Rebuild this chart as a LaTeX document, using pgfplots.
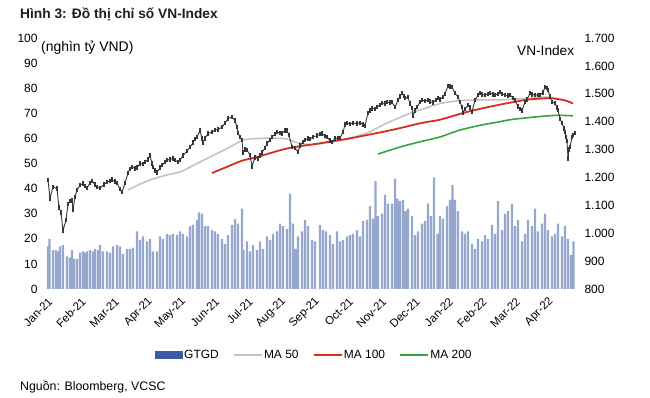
\documentclass[border=0pt]{standalone}
\usepackage{fontspec}
\setmainfont{Liberation Sans}
\usepackage{pgfplots}
\pgfplotsset{compat=1.18}
\definecolor{barblue}{RGB}{150,168,206}
\definecolor{legblue}{RGB}{60,90,165}
\definecolor{ma50}{RGB}{195,195,195}
\definecolor{ma100}{RGB}{215,45,35}
\definecolor{ma200}{RGB}{55,165,60}
\definecolor{idx}{RGB}{55,55,55}
\newcommand{\tf}{\fontsize{12}{14}\selectfont}
\begin{document}
\begin{tikzpicture}
\useasboundingbox (0,0) rectangle (650bp,398bp);
% ---------- left axis: GTGD bars ----------
\begin{axis}[
  at={(45bp,109bp)}, anchor=south west, scale only axis,
  width=532bp, height=251bp,
  xmin=45, xmax=577, ymin=0, ymax=100,
  axis line style={draw=none}, tick style={draw=none},
  ytick={0,10,...,100},
  yticklabel style={font=\tf, xshift=-4bp},
  /pgf/number format/assume math mode=true,
  xtick={47,80.4,113.8,147.2,180.6,214,247.4,280.8,314.2,347.6,381,414.4,447.8,481.2,514.6,548},
  xticklabels={Jan-21,Feb-21,Mar-21,Apr-21,May-21,Jun-21,Jul-21,Aug-21,Sep-21,Oct-21,Nov-21,Dec-21,Jan-22,Feb-22,Mar-22,Apr-22},
  xticklabel style={font=\fontsize{11.5}{13}\selectfont, rotate=45, anchor=east, inner sep=0pt, yshift=-10bp, xshift=-5bp},
]
\addplot[ybar, bar width=2.2, fill=barblue, draw=none] table {
x v
48 17
49.5 20
53 15.5
56 15.5
58 15
60 17
63 17.5
67 13
70 12.5
72 15.5
74 12
77 12
80 14.5
83 15
85 14.5
87 15
90 15.5
93 15
95 16
98 15.5
100 17.5
103 15
107 15
110 14.5
113 17
117 17.5
120 17
123 14
127 16
130 16
133 16.5
137 23
140 19.5
143 21
147 19
150 20
153 15
157 15
160 21
163 20
167 22
170 21.5
173 22
177 21.5
180 23
183 22
187 21
190 25
193 25.5
197 27.5
199 30.5
202 30
205 25
208 25
212 23.5
215 23
218 22
222 20
225 18
228 21.5
232 25.5
235 27.8
238 26
242 32
243.5 15.5
247 19
250 15
253 17.5
257 15.5
260 19
263 16
267 21
270 19.5
273 22
277 23
280 26
283 25
287 24
290 38
293 26
295.5 16
298 21
302 23
305 27.5
308 25
312 19.5
315 19
320 25.5
323 23.5
326 23
330 21.5
333 18
337 23
340 19
343 19.5
347 21
350 21.5
353 22
357 23.5
360 21
363 27
367 27.5
370 33
373 28
375.5 43
378 29
382 30
385 37.5
388 34
392 34
395 44
397.5 36
400 35
403 35.5
405.5 31
408 32
412 29
415 21.5
418 23
422 26
425 27
428 34
431 29
434 44.5
437.5 22
440 29
443 28
447 33
450 35.5
452.5 41.5
455 35.5
458 31
462 23
465 22
468 23
472 18
475 16
478 20
482 19
485 21.5
488 20
492 25.5
495 22
498 35
502 23.5
505 30
508 31
512 34
515 25
518 27.5
522 19
525 22
528 27.5
532 25
535 32
538 23
542 26
545 30
548 23.5
552 21
555 22
558 26
562 21
565 25
568 20
571 13.5
573.5 19
};
\end{axis}
% ---------- right axis: VN-Index ----------
\begin{axis}[
  at={(45bp,109bp)}, anchor=south west, scale only axis,
  width=532bp, height=251bp,
  xmin=45, xmax=577, ymin=800, ymax=1700,
  axis y line*=right, hide x axis,
  axis line style={draw=none}, tick style={draw=none},
  ytick={800,900,...,1700},
  yticklabel style={font=\tf, xshift=4bp},
  /pgf/number format/assume math mode=true,
  /pgf/number format/1000 sep={.},
  legend style={at={(0.506,-0.263)}, anchor=center, draw=none, fill=none,
    legend columns=4, font=\tf,
    nodes={inner sep=1.5bp},
    /tikz/every even column/.append style={column sep=13bp}},
]
\addlegendimage{legend image code/.code={\fill[legblue] (0bp,-3.5bp) rectangle (27bp,3.5bp);}}
\addlegendentry{GTGD}
\addlegendimage{legend image code/.code={\draw[ma50, line width=1.3bp] (0bp,0bp) -- (28bp,0bp);}}
\addlegendentry{MA 50}
\addlegendimage{legend image code/.code={\draw[ma100, line width=1.3bp] (0bp,0bp) -- (28bp,0bp);}}
\addlegendentry{MA 100}
\addlegendimage{legend image code/.code={\draw[ma200, line width=1.3bp] (0bp,0bp) -- (28bp,0bp);}}
\addlegendentry{MA 200}
% MA 50
\addplot[forget plot, ma50, line width=1.6bp, smooth] table {
x y
128 1155
140 1176
150 1191
160 1202
167 1209
180 1220
190 1237
200 1255
210 1273
220 1291
230 1309
242 1333
250 1338
260 1340
270 1341
280 1340
287 1338
297 1325
310 1318
325 1323
340 1334
355 1346
367 1359
377 1377
387 1395
400 1415
410 1430
427 1450
440 1465
450 1471
463 1476
480 1478
497 1478
515 1481
530 1484
547 1488
558 1479
};
% MA 100
\addplot[forget plot, ma100, line width=1.8bp, smooth] table {
x y
212 1216
227 1238
242 1260
257 1273
270 1287
287 1304
300 1312
310 1317
333 1330
350 1340
367 1352
385 1365
400 1377
415 1390
427 1399
440 1407
463 1431
480 1446
497 1459
513 1470
530 1480
550 1484
560 1480
567 1474
573 1465
};
% MA 200
\addplot[forget plot, ma200, line width=1.6bp, smooth] table {
x y
378 1284
400 1309
420 1328
440 1345
458 1368
480 1387
497 1398
512 1408
530 1415
545 1420
558 1423
566 1422
573 1421
};
% VN-Index (daily closes with high-low range)
\addplot[forget plot, idx, line width=0.9bp,
  error bars/.cd, y dir=both, y fixed=8, error mark=none,
  error bar style={idx, line width=1.4bp}] table {
x y
48 1190
50 1125
53 1166
57 1160
59 1092
61 1075
63 1010
66 1047
68 1105
70 1115
72 1118
73 1085
75 1130
77 1155
80 1172
83 1178
85 1170
87 1162
90 1180
92 1188
95 1175
97 1166
100 1162
104 1175
107 1183
110 1188
112 1192
115 1185
117 1180
120 1158
122 1147
125 1180
128 1215
130 1230
132 1237
135 1232
137 1235
140 1250
143 1248
145 1255
148 1265
150 1278
152 1250
153 1237
155 1225
157 1218
160 1235
162 1244
165 1255
167 1262
170 1265
173 1268
175 1262
178 1255
180 1262
183 1278
187 1295
190 1309
193 1325
195 1338
197 1345
200 1368
202 1340
203 1325
205 1340
208 1358
212 1362
215 1370
218 1372
222 1380
225 1395
228 1412
232 1416
235 1405
237 1380
238 1360
240 1345
242 1334
243 1290
245 1300
247 1298
250 1280
252 1240
255 1272
258 1268
260 1278
262 1290
265 1305
267 1322
270 1335
272 1345
275 1355
277 1362
280 1360
282 1358
285 1368
287 1368
289 1352
292 1310
295 1305
298 1292
300 1315
303 1327
305 1335
308 1340
310 1338
313 1345
317 1350
320 1355
322 1358
325 1348
327 1345
330 1332
332 1327
335 1340
338 1342
340 1341
343 1362
345 1390
347 1395
350 1392
353 1395
357 1393
360 1396
363 1390
365 1385
368 1432
370 1440
372 1448
375 1446
377 1452
380 1460
382 1467
385 1465
387 1470
390 1468
392 1470
395 1452
398 1477
400 1490
402 1502
404 1492
405 1484
408 1488
410 1465
412 1449
413 1420
415 1440
417 1452
420 1470
422 1477
425 1474
428 1477
430 1472
433 1468
436 1478
438 1484
440 1480
443 1488
445 1500
448 1528
450 1526
452 1524
455 1502
458 1488
460 1470
462 1452
463 1432
465 1445
468 1459
470 1450
472 1435
475 1477
478 1495
480 1502
482 1498
485 1495
488 1500
490 1502
493 1498
495 1495
498 1500
500 1506
502 1500
505 1495
508 1494
510 1495
513 1485
515 1477
518 1455
520 1445
522 1440
525 1470
527 1480
530 1502
532 1498
535 1495
538 1496
540 1495
543 1505
545 1524
547 1520
548 1513
550 1490
552 1470
555 1467
557 1450
558 1442
560 1410
562 1395
564 1375
565 1363
566 1345
567 1330
568 1268
569 1300
570 1309
572 1345
573 1352
575 1360
};
\end{axis}
% ---------- texts ----------
\node[anchor=west, inner sep=0pt, font=\fontsize{13.8}{16}\selectfont\bfseries, text={rgb,255:red,30;green,30;blue,30}] at (20bp,384bp) {Hình 3: Đồ thị chỉ số VN-Index};
\node[anchor=west, inner sep=0pt, font=\fontsize{14}{16}\selectfont] at (41bp,350bp) {(nghìn tỷ VND)};
\node[anchor=west, inner sep=0pt, font=\fontsize{13.7}{16}\selectfont] at (517bp,347bp) {VN-Index};
\node[anchor=west, inner sep=0pt, font=\fontsize{12.4}{14}\selectfont] at (20bp,11bp) {Nguồn: Bloomberg, VCSC};
\end{tikzpicture}
\end{document}
